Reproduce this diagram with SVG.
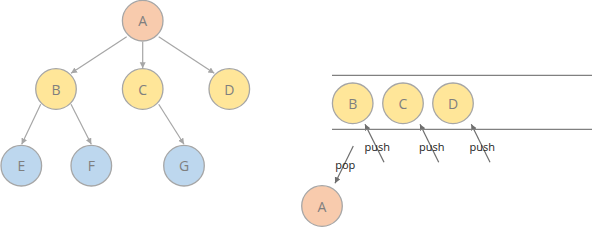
<svg xmlns="http://www.w3.org/2000/svg" width="592" height="227" viewBox="0 0 592 227">
<style>
.n{stroke:#A6A6A6;stroke-width:1.3}
.a{fill:#F8CBAD}.y{fill:#FFE699}.b{fill:#BDD7EE}
.t{font-family:"Open Sans","Noto Sans",sans-serif;font-size:14px;fill:#7F7F7F;text-anchor:middle;dominant-baseline:central}
.e{stroke:#A6A6A6;stroke-width:1.2;fill:none;marker-end:url(#ah)}
.s{stroke:#6E6E6E;stroke-width:1.2;fill:none;marker-end:url(#ah2)}
.l{font-family:"Open Sans","Noto Sans",sans-serif;font-size:11px;fill:#222;text-anchor:middle;dominant-baseline:central}
.ln{stroke:#808080;stroke-width:1.3}
</style>
<defs>
<marker id="ah" markerWidth="8" markerHeight="8" refX="6" refY="3" orient="auto" markerUnits="userSpaceOnUse"><path d="M0,0 L6,3 L0,6 Z" fill="#A6A6A6"/></marker>
<marker id="ah2" markerWidth="8" markerHeight="8" refX="6" refY="3" orient="auto" markerUnits="userSpaceOnUse"><path d="M0,0 L6,3 L0,6 Z" fill="#6E6E6E"/></marker>
</defs>
<g id="connectors">
<line class="e" x1="126.7" y1="36.7" x2="71" y2="73.3"/>
<line class="e" x1="142.7" y1="41.7" x2="142.7" y2="68.3"/>
<line class="e" x1="158.7" y1="36.7" x2="214.3" y2="73.3"/>
<line class="e" x1="40.7" y1="104.3" x2="21.7" y2="144.3"/>
<line class="e" x1="71" y1="104.3" x2="91.3" y2="144.3"/>
<line class="e" x1="158.7" y1="104.3" x2="184" y2="144.3"/>
<line class="s" x1="384" y1="162.3" x2="365" y2="124.3"/>
<line class="s" x1="438.7" y1="162.3" x2="420" y2="124.3"/>
<line class="s" x1="490" y1="162.3" x2="471.3" y2="124.3"/>
<line class="s" x1="353.3" y1="146" x2="335" y2="183.3"/>
</g>
<g id="stack">
<line class="ln" x1="332" y1="75.3" x2="592" y2="75.3"/>
<line class="ln" x1="332" y1="129.3" x2="592" y2="129.3"/>
</g>
<g id="tA"><circle class="n a" cx="142.7" cy="20.7" r="20.3"/><text class="t" x="142.7" y="20.7">A</text></g>
<g id="tB"><circle class="n y" cx="56" cy="89" r="20.3"/><text class="t" x="56" y="89">B</text></g>
<g id="tC"><circle class="n y" cx="142.7" cy="89" r="20.3"/><text class="t" x="142.7" y="89">C</text></g>
<g id="tD"><circle class="n y" cx="229.3" cy="89" r="20.3"/><text class="t" x="229.3" y="89">D</text></g>
<g id="tE"><circle class="n b" cx="21.3" cy="165.7" r="20.3"/><text class="t" x="21.3" y="165.7">E</text></g>
<g id="tF"><circle class="n b" cx="91.3" cy="165.7" r="20.3"/><text class="t" x="91.3" y="165.7">F</text></g>
<g id="tG"><circle class="n b" cx="184" cy="165.7" r="20.3"/><text class="t" x="184" y="165.7">G</text></g>
<g id="sB"><circle class="n y" cx="352.7" cy="103.3" r="20.3"/><text class="t" x="352.7" y="103.3">B</text></g>
<g id="sC"><circle class="n y" cx="403" cy="103.3" r="20.3"/><text class="t" x="403" y="103.3">C</text></g>
<g id="sD"><circle class="n y" cx="453" cy="103.3" r="20.3"/><text class="t" x="453" y="103.3">D</text></g>
<g id="sA"><circle class="n a" cx="322" cy="206" r="20.3"/><text class="t" x="322" y="206">A</text></g>
<g id="labels">
<text class="l" x="377.3" y="146.7">push</text>
<text class="l" x="431.7" y="146.7">push</text>
<text class="l" x="482.3" y="146.7">push</text>
<text class="l" x="345.3" y="164">pop</text>
</g>
</svg>
